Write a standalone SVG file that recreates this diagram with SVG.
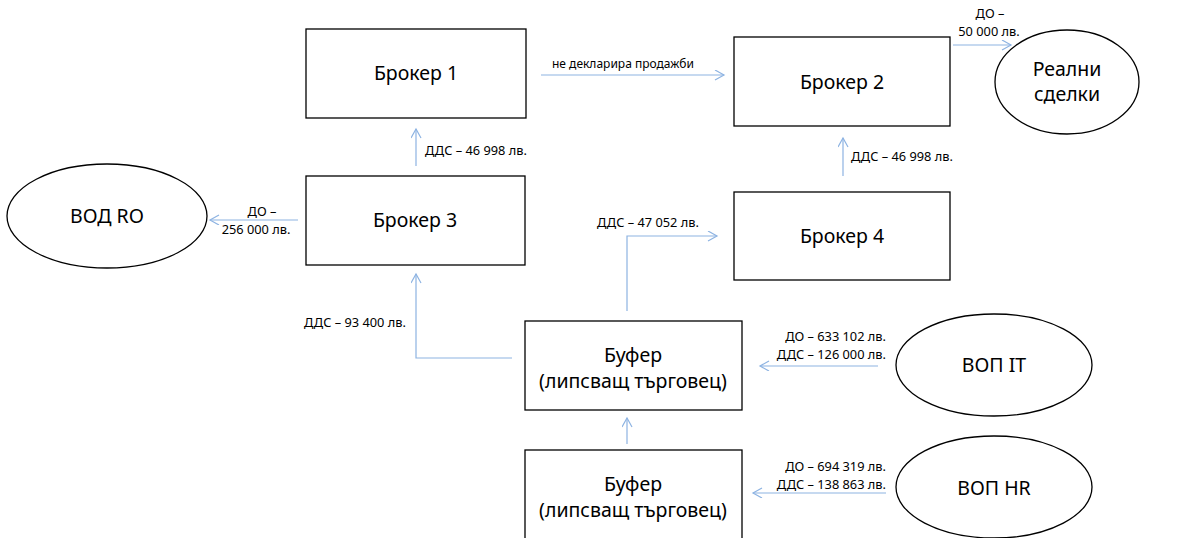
<svg xmlns="http://www.w3.org/2000/svg" width="1193" height="538" viewBox="0 0 1193 538">
<style>
.box{fill:#fff;stroke:#000;stroke-width:1.3}
.t{font-family:"Noto Sans","Open Sans",sans-serif;font-size:19.5px;fill:#000;text-anchor:middle}
.l{font-family:"Noto Sans","Open Sans",sans-serif;font-size:12.8px;fill:#000}
.s{font-size:12px}
.c{fill:none;stroke:#8db3e2;stroke-width:1.2;marker-end:url(#ah)}
</style>
<defs>
<marker id="ah" markerWidth="12" markerHeight="12" refX="10" refY="5" orient="auto" markerUnits="userSpaceOnUse">
<path d="M1,0 L10,5 L1,10" fill="none" stroke="#8db3e2" stroke-width="1.2"/>
</marker>
</defs>
<rect width="1193" height="538" fill="#fff"/>
<g id="connectors">
<line class="c" x1="541" y1="75" x2="724" y2="75"/>
<line class="c" x1="953" y1="45" x2="1011" y2="45"/>
<line class="c" x1="416" y1="166" x2="416" y2="129"/>
<line class="c" x1="298" y1="220" x2="210" y2="220"/>
<line class="c" x1="843" y1="176" x2="843" y2="138"/>
<polyline class="c" points="627,311 627,236 717,236"/>
<polyline class="c" points="512,358 416,358 416,274"/>
<line class="c" x1="878" y1="366" x2="760" y2="366"/>
<line class="c" x1="627" y1="444" x2="627" y2="418"/>
<line class="c" x1="886" y1="493" x2="753" y2="493"/>
<text class="l s" x="552" y="68">не декларира продажби</text>
<text class="l" x="990" y="18" text-anchor="middle">ДО –</text>
<text class="l" x="989" y="36" text-anchor="middle">50 000 лв.</text>
<text class="l" x="262" y="216" text-anchor="middle">ДО –</text>
<text class="l" x="256" y="234" text-anchor="middle">256 000 лв.</text>
<text class="l" x="425" y="155">ДДС – 46 998 лв.</text>
<text class="l" x="851" y="161">ДДС – 46 998 лв.</text>
<text class="l" x="597" y="227">ДДС – 47 052 лв.</text>
<text class="l" x="304" y="327">ДДС – 93 400 лв.</text>
<text class="l" x="886" y="341" text-anchor="end">ДО – 633 102 лв.</text>
<text class="l" x="886" y="359" text-anchor="end">ДДС – 126 000 лв.</text>
<text class="l" x="886" y="471" text-anchor="end">ДО – 694 319 лв.</text>
<text class="l" x="886" y="489" text-anchor="end">ДДС – 138 863 лв.</text>
</g>
<g id="broker1"><rect class="box" x="306" y="29" width="220" height="89"/><text class="t" x="416" y="80">Брокер 1</text></g>
<g id="broker2"><rect class="box" x="734" y="37" width="216" height="89"/><text class="t" x="842" y="89">Брокер 2</text></g>
<g id="real"><ellipse class="box" cx="1067" cy="82" rx="72" ry="52"/><text class="t" x="1067" y="76">Реални</text><text class="t" x="1067" y="101">сделки</text></g>
<g id="broker3"><rect class="box" x="306" y="176" width="219" height="89"/><text class="t" x="415" y="227">Брокер 3</text></g>
<g id="vodro"><ellipse class="box" cx="107" cy="216" rx="100" ry="52"/><text class="t" x="107" y="223">ВОД RO</text></g>
<g id="broker4"><rect class="box" x="734" y="192" width="216" height="88"/><text class="t" x="842" y="243">Брокер 4</text></g>
<g id="buffer1"><rect class="box" x="525" y="321" width="217" height="89"/><text class="t" x="633" y="362">Буфер</text><text class="t" x="633" y="388">(липсващ търговец)</text></g>
<g id="vopit"><ellipse class="box" cx="994" cy="365" rx="98" ry="51"/><text class="t" x="994" y="372">ВОП IT</text></g>
<g id="buffer2"><rect class="box" x="525" y="450" width="217" height="92"/><text class="t" x="633" y="491">Буфер</text><text class="t" x="633" y="517">(липсващ търговец)</text></g>
<g id="vophr"><ellipse class="box" cx="994" cy="487" rx="98" ry="51"/><text class="t" x="994" y="495">ВОП HR</text></g>
</svg>
